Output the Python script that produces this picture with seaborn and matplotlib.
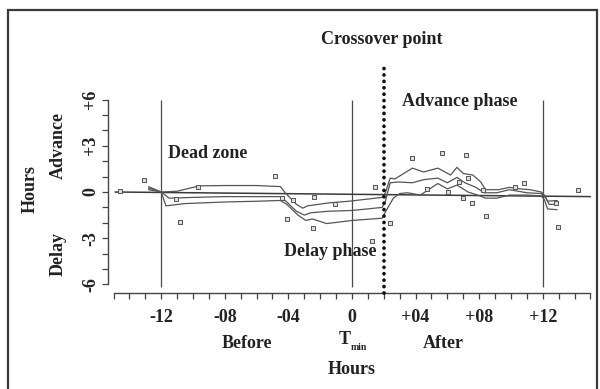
import numpy as np
import pandas as pd
import seaborn as sns
import matplotlib
matplotlib.use("Agg")
import matplotlib.pyplot as plt
from matplotlib.patches import Rectangle

# ---------------- data ----------------
upper_x = [-12.8, -12.0, -11.0, -10.0, -9.5, -8.0, -6.0, -4.5, -4.2, -3.5, -3.1, -2.8, -1.4, -0.2,
           1.9, 2.1, 2.4, 2.7, 3.8, 4.5, 5.4, 6.2, 6.6, 7.0, 7.6, 8.1, 8.4, 9.2, 9.9, 10.6, 11.2,
           11.9, 12.1, 12.3, 12.9]
upper_y = [0.35, 0.0, 0.05, 0.3, 0.4, 0.42, 0.42, 0.35, -0.05, -0.8, -1.05, -0.9, -0.7, -0.6,
           -0.35, -0.05, 0.9, 0.85, 1.55, 1.3, 1.55, 1.1, 1.6, 1.2, 1.1, 0.65, 0.15, 0.15, 0.3, 0.2, 0.15,
           0.0, -0.2, -0.6, -0.55]

middle_x = [-12.8, -12.0, -11.5, -10.0, -8.0, -6.0, -4.5, -4.2, -3.5, -3.0, -2.6, -1.5, 0.0,
            1.9, 2.1, 2.4, 2.9, 3.8, 4.5, 5.4, 6.0, 6.6, 7.1, 7.8, 8.3, 9.1, 9.9, 11.0, 11.9,
            12.2, 12.4, 12.9]
middle_y = [0.25, 0.0, -0.4, -0.35, -0.3, -0.3, -0.3, -0.55, -1.25, -1.5, -1.35, -1.25, -1.2,
            -1.0, -0.6, 0.6, 0.65, 0.6, 0.8, 0.9, 0.6, 0.95, 0.6, 0.3, -0.05, -0.05, 0.15, -0.05, -0.1,
            -0.4, -0.8, -0.8]

lower_x = [-12.8, -12.0, -11.7, -10.5, -8.0, -6.0, -4.5, -4.1, -3.4, -2.9, -2.5, -1.6, 0.0,
           1.9, 2.1, 2.6, 3.0, 3.5, 4.3, 5.4, 6.0, 6.6, 7.3, 7.9, 8.4, 9.1, 9.9, 11.0, 11.9,
           12.1, 12.3, 12.9]
lower_y = [0.15, 0.0, -0.9, -0.75, -0.65, -0.6, -0.55, -0.8, -1.5, -1.85, -1.75, -2.05, -1.85,
           -1.7, -1.3, -0.4, -0.1, -0.05, -0.2, 0.55, 0.2, 0.45, 0.0, -0.2, -0.4, -0.4, -0.2, -0.2, -0.25,
           -0.5, -1.1, -1.15]

points_x = [-14.6, -13.1, -10.8, -9.7, -11.1, -4.85, -4.4, -4.1, -3.7, -2.4, -2.45, -1.1,
            1.25, 1.45, 2.4, 3.8, 5.65, 7.15, 4.7, 6.05, 6.7, 7.0, 7.3, 7.55, 8.4, 8.25,
            10.25, 10.8, 12.8, 12.95, 14.2]
points_y = [0.05, 0.75, -1.95, 0.35, -0.45, 1.05, -0.4, -1.75, -0.5, -0.3, -2.35, -0.8,
            -3.2, 0.3, -2.0, 2.2, 2.55, 2.4, 0.2, 0.0, 0.65, -0.4, 0.9, -0.7, -1.55, 0.1,
            0.3, 0.6, -0.7, -2.25, 0.1]

zero_line_x = [-14.9, 15.0]
zero_line_y = [0.0, -0.3]

boundary_hours = [-12, 0, 12]
crossover_hour = 2

x_tick_values = [-12, -8, -4, 0, 4, 8, 12]
x_tick_labels = ["-12", "-08", "-04", "0", "+04", "+08", "+12"]
y_tick_values = [6, 3, 0, -3, -6]
y_tick_labels = ["+6", "+3", "0", "-3", "-6"]

# ---------------- build frames ----------------
curves = pd.concat([
    pd.DataFrame({"hour": upper_x, "shift": upper_y, "curve": "upper"}),
    pd.DataFrame({"hour": middle_x, "shift": middle_y, "curve": "middle"}),
    pd.DataFrame({"hour": lower_x, "shift": lower_y, "curve": "lower"}),
], ignore_index=True)
points = pd.DataFrame({"hour": points_x, "shift": points_y})

# ---------------- style ----------------
sns.set_theme(style="ticks")
plt.rcParams["font.family"] = ["Liberation Serif", "DejaVu Serif"]
plt.rcParams["font.weight"] = "bold"

W, H = 600, 389
fig = plt.figure(figsize=(6.0, 3.89), dpi=100)
fig.patch.set_facecolor("white")

X0, PXH = 352.0, 15.9
Y0, PYH = 192.0, 15.4
left_px, right_px, bottom_px, top_px = 108, 597, 293, 20
ax = fig.add_axes([left_px / W, 1 - bottom_px / H, (right_px - left_px) / W, (bottom_px - top_px) / H])
ax.set_xlim((left_px - X0) / PXH, (right_px - X0) / PXH)
ax.set_ylim((Y0 - bottom_px) / PYH, (Y0 - top_px) / PYH)
ax.set_facecolor("white")

ink = "#222222"
line_col = "#555555"

# zero line
ax.plot(zero_line_x, zero_line_y, color="#3a3a3a", lw=1.1, zorder=2)

# vertical boundaries
ax.vlines(boundary_hours, -6.15, 5.95, color="#4a4a4a", lw=0.9, zorder=1)

# crossover dotted line
ax.plot([crossover_hour, crossover_hour], [(Y0 - bottom_px) / PYH, 8.4], color="#111111",
        lw=2.7, linestyle=(0, (0.01, 1.7)), dash_capstyle="round", zorder=4, clip_on=False)

sns.lineplot(data=curves, x="hour", y="shift", hue="curve", units="curve", estimator=None,
             sort=False, palette=[line_col] * 3, linewidth=0.9, legend=False, ax=ax, zorder=3)

sns.scatterplot(data=points, x="hour", y="shift", marker="s", s=7, color="#dddddd",
                edgecolor="#555555", linewidth=0.7, ax=ax, zorder=5, legend=False)

# axes styling
for s in ["top", "right"]:
    ax.spines[s].set_visible(False)
ax.spines["left"].set_bounds(-6, 6)
ax.spines["bottom"].set_bounds(-15, 15)
for s in ["left", "bottom"]:
    ax.spines[s].set_color("#444444")
    ax.spines[s].set_linewidth(1.0)

ax.set_xticks(np.arange(-15, 16, 1))
ax.set_xticklabels(["" for _ in range(31)])
ax.set_yticks(np.arange(-6, 7, 1))
ax.set_yticklabels(["" for _ in range(13)])
ax.tick_params(axis="both", length=4.5, width=0.9, color="#444444", direction="out")
ax.set_xlabel("")
ax.set_ylabel("")

fs = 13
def ftxt(px, py, s, size=fs, rot=0, ha="center", va="center"):
    fig.text(px / W, 1 - py / H, s, fontsize=size, fontweight="bold", color=ink,
             rotation=rot, ha=ha, va=va, family=["Liberation Serif", "DejaVu Serif"])

# tick labels drawn from values
for v, lab in zip(x_tick_values, x_tick_labels):
    ftxt(X0 + v * PXH, 318, lab)
for v, lab in zip(y_tick_values, y_tick_labels):
    ftxt(91, Y0 - v * PYH, lab, rot=90)

# axis titles
ftxt(58, 146, "Advance", rot=90)
ftxt(58, 254, "Delay", rot=90)
ftxt(30, 189, "Hours", rot=90)
ftxt(247, 343, "Before")
ftxt(345, 340, "T")
ftxt(359, 347, "min", size=7)
ftxt(443, 343, "After")
ftxt(352, 370, "Hours")

# annotations
ftxt(382, 40, "Crossover point")
ftxt(460, 102, "Advance phase")
ftxt(208, 154, "Dead zone")
ftxt(330, 252, "Delay phase")

# outer frame
fig.patches.append(Rectangle((8 / W, -0.1), (597 - 8) / W, 1.1 - 10 / H, transform=fig.transFigure,
                             fill=False, edgecolor="#3a3a3a", lw=1.6))

fig.savefig("out.png", dpi=100, facecolor="white")
